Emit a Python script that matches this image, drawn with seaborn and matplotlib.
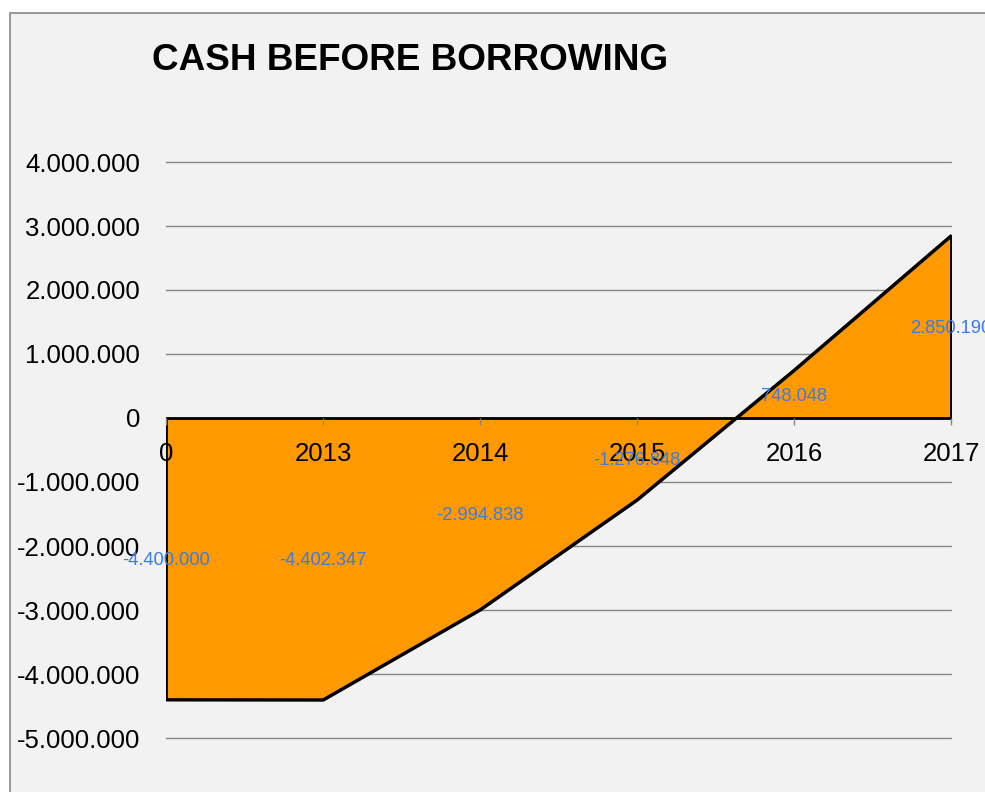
import matplotlib
matplotlib.use("Agg")
import matplotlib.pyplot as plt
import seaborn as sns
import numpy as np
import pandas as pd
from matplotlib.patches import Rectangle
from matplotlib.ticker import FuncFormatter

categories = ["0", "2013", "2014", "2015", "2016", "2017"]
values = [-4400000, -4402347, -2994838, -1276848, 748048, 2850190]
yticks = [4000000, 3000000, 2000000, 1000000, 0, -1000000, -2000000, -3000000, -4000000, -5000000]
title = "CASH BEFORE BORROWING"

def fmt(v):
    s = f"{abs(int(round(v))):,}".replace(",", ".")
    return ("-" if v < 0 else "") + s

sns.set_theme(style="white")
plt.rcParams['font.family'] = ['Liberation Sans', 'DejaVu Sans']

W, H = 985, 792
fig = plt.figure(figsize=(W / 100, H / 100), dpi=100)
fig.patch.set_facecolor("white")
bg = Rectangle((10 / W, -0.1), 1.2, (H - 13) / H + 0.1, transform=fig.transFigure,
               facecolor="#F2F2F2", edgecolor="#878787", linewidth=1.2, zorder=-10)
fig.patches.append(bg)

ax = fig.add_axes([166 / W, 1 - 738 / H, (951 - 166) / W, (738 - 162) / H])
ax.set_facecolor("none")

df = pd.DataFrame({"x": np.arange(len(categories)), "y": values})
ax.fill_between(df["x"], df["y"], 0, facecolor="#FF9900", edgecolor="black",
                linewidth=2, zorder=3)
sns.lineplot(data=df, x="x", y="y", color="black", linewidth=2, ax=ax, zorder=4)

ax.set_xlim(0, len(categories) - 1)
ax.set_ylim(-5000000, 4000000)
ax.set_yticks(yticks)
ax.yaxis.set_major_formatter(FuncFormatter(lambda v, p: fmt(v)))
ax.yaxis.grid(True, color="#868686", linewidth=1)
ax.set_axisbelow(True)
ax.tick_params(axis="y", length=0, pad=18.7, labelsize=18.5, labelcolor="black")

ax.set_xticks(df["x"])
ax.set_xticklabels(categories)
ax.spines["bottom"].set_position(("data", 0))
for s in ["top", "right", "left", "bottom"]:
    ax.spines[s].set_visible(False)
ax.tick_params(axis="x", direction="out", length=5, width=1, color="#868686",
               pad=12, labelsize=18.5, labelcolor="black", bottom=True)
ax.xaxis.set_zorder(5)
ax.set_xlabel("")
ax.set_ylabel("")

fig.canvas.draw()
for gl in ax.get_ygridlines():
    gl.set_clip_on(False)

for i, v in enumerate(values):
    ax.annotate(fmt(v), (i, v / 2), xytext=(0, -2), textcoords="offset pixels",
                ha="center", va="center", fontsize=13.2,
                color="#3B7BE8", zorder=6, annotation_clip=False)

fig.text(410 / W, 1 - 60 / H, title, ha="center", va="center", fontsize=26.6,
         fontweight="bold", color="black")

fig.savefig("out.png", dpi=100, facecolor=fig.get_facecolor())
